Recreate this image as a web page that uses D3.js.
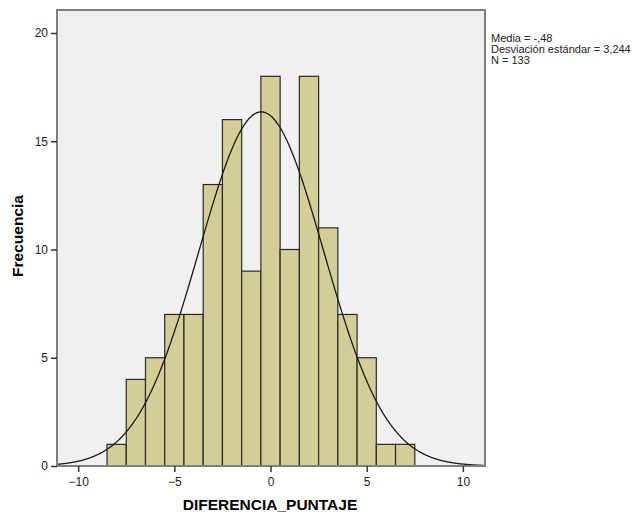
<!DOCTYPE html>
<html>
<head>
<meta charset="utf-8">
<script src="https://cdn.jsdelivr.net/npm/d3@7"></script>
<style>
  body { margin: 0; background: #fff; }
  svg { font-family: Arial, "Liberation Sans", sans-serif; }
</style>
</head>
<body>
<svg id="chart"></svg>
<script>
// histogram bins (centre of each bin) and how many cases fall in each
const binCenters = [-8, -7, -6, -5, -4, -3, -2, -1, 0, 1, 2, 3, 4, 5, 6, 7];
const counts = [1, 4, 5, 7, 7, 13, 16, 9, 18, 10, 18, 11, 7, 5, 1, 1];
const xTicks = [-10, -5, 0, 5, 10];
const yTicks = [0, 5, 10, 15, 20];
const stats = ['Media = -,48', 'Desviación estándar = 3,244', 'N = 133'];
const mean = -0.48, sd = 3.244, n = 133, binWidth = 1;

const width = 636;
const height = 516;
const plot = { left: 57, top: 10, right: 485, bottom: 466 };

const svg = d3.select('#chart')
    .attr('width', width)
    .attr('height', height);

// scales
const xScale = d3.scaleLinear()
    .domain([-11.1, 11.15])
    .range([plot.left, plot.right]);

const yScale = d3.scaleLinear()
    .domain([0, 20])
    .range([plot.bottom, 33]);

// plot background
svg.append('rect')
    .attr('x', plot.left)
    .attr('y', plot.top)
    .attr('width', plot.right - plot.left)
    .attr('height', plot.bottom - plot.top)
    .attr('fill', '#f0f0f0');

// bars
svg.selectAll('.bar')
    .data(binCenters)
    .enter()
    .append('rect')
    .attr('class', 'bar')
    .attr('x', (d) => xScale(d - binWidth / 2))
    .attr('y', (d, i) => yScale(counts[i]))
    .attr('width', (d) => xScale(d + binWidth / 2) - xScale(d - binWidth / 2))
    .attr('height', (d, i) => yScale(0) - yScale(counts[i]))
    .attr('fill', '#d3ce98')
    .attr('stroke', '#2a2a22')
    .attr('stroke-width', 1.2);

// normal curve
const curveX = d3.range(-11.1, 11.15, 0.05);
const line = d3.line()
    .x((v) => xScale(v))
    .y((v) => yScale(n * binWidth * Math.exp(-0.5 * ((v - mean) / sd) ** 2) / (sd * Math.sqrt(2 * Math.PI))))
    .curve(d3.curveBasis);

svg.append('path')
    .datum(curveX)
    .attr('d', line)
    .attr('fill', 'none')
    .attr('stroke', '#1a1a1a')
    .attr('stroke-width', 1.3);

// frame
svg.append('rect')
    .attr('x', plot.left)
    .attr('y', plot.top)
    .attr('width', plot.right - plot.left)
    .attr('height', plot.bottom - plot.top)
    .attr('fill', 'none')
    .attr('stroke', '#7f7f7f')
    .attr('stroke-width', 2);

// axes
const xAxis = d3.axisBottom(xScale).tickValues(xTicks).tickSize(6).tickSizeOuter(0);
const yAxis = d3.axisLeft(yScale).tickValues(yTicks).tickSize(6).tickSizeOuter(0);

const gx = svg.append('g')
    .attr('transform', `translate(0,${plot.bottom})`)
    .call(xAxis);
const gy = svg.append('g')
    .attr('transform', `translate(${plot.left},0)`)
    .call(yAxis);

[gx, gy].forEach((g) => {
    g.select('.domain').remove();
    g.selectAll('line').attr('stroke', '#333').attr('stroke-width', 1.5);
    g.selectAll('text').attr('fill', '#222').style('font-size', '12px');
});
gx.selectAll('text').attr('dy', '0.9em');

// axis titles
svg.append('text')
    .attr('x', 270)
    .attr('y', 510)
    .attr('text-anchor', 'middle')
    .style('font-size', '15.5px')
    .style('font-weight', 'bold')
    .text('DIFERENCIA_PUNTAJE');

svg.append('text')
    .attr('transform', 'translate(23,236) rotate(-90)')
    .attr('text-anchor', 'middle')
    .style('font-size', '15.5px')
    .style('font-weight', 'bold')
    .text('Frecuencia');

// stats box text
svg.selectAll('.stat')
    .data(stats)
    .enter()
    .append('text')
    .attr('class', 'stat')
    .attr('x', 491)
    .attr('y', (d, i) => 42 + i * 11)
    .style('font-size', '11px')
    .attr('fill', '#222')
    .text((d) => d);
</script>
</body>
</html>
